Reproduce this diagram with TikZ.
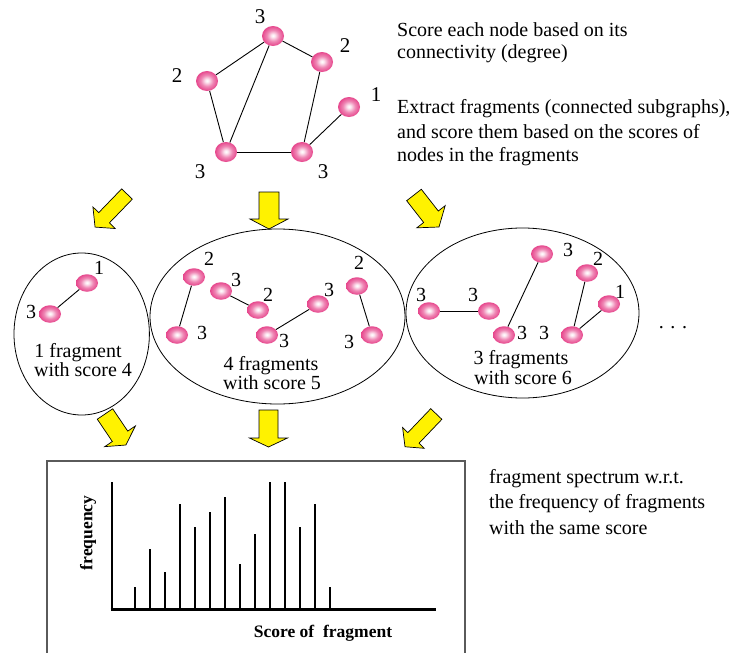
\documentclass[tikz,border=0pt]{standalone}
\usepackage{fontspec}
\setmainfont{Liberation Serif}
\usetikzlibrary{shapes.geometric}
\definecolor{nodepink}{RGB}{230,70,140}
\definecolor{framegray}{RGB}{90,90,90}
\pgfdeclareradialshading{ballshade}{\pgfpoint{0bp}{1bp}}{color(0bp)=(white); color(4bp)=(nodepink!12); color(14bp)=(nodepink!65); color(25bp)=(nodepink); color(50bp)=(nodepink)}
\tikzset{
  ball/.style={ellipse, minimum width=22pt, minimum height=17.5pt, inner sep=0pt, shading=ballshade},
  bigball/.style={ball, minimum height=20pt},
  edge/.style={draw=black, line width=0.9pt},
  lbl/.style={font=\fontsize{20}{24}\selectfont, inner sep=0pt},
  biglbl/.style={font=\fontsize{21}{24}\selectfont, inner sep=0pt},
  txt/.style={font=\fontsize{20}{24}\selectfont, inner sep=0pt, anchor=base west},
  captxt/.style={font=\fontsize{20}{24}\selectfont, inner sep=0pt, anchor=base},
  region/.style={draw=black, line width=0.8pt},
  yarrowsty/.style={draw=black, fill=yellow, line width=0.7pt, line join=miter},
  bar/.style={line width=2.6pt, line cap=butt},
}
% x y angle length shaftHalf headHalf headLen
\newcommand{\yarr}[7]{%
  \begin{scope}[shift={(#1,#2)},rotate=#3]
    \draw[yarrowsty] (0,-#5) -- ({#4-#7},-#5) -- ({#4-#7},-#6) -- (#4,0) -- ({#4-#7},#6) -- ({#4-#7},#5) -- (0,#5) -- cycle;
  \end{scope}}
\begin{document}
\begin{tikzpicture}[x=1pt,y=-1pt]
\useasboundingbox (0,0) rectangle (734,653);
\fill[white] (0,0) rectangle (734,653);

% ---------- top graph ----------
\node[bigball] (t1) at (273,36) {};
\node[bigball] (t2) at (322,62) {};
\node[bigball] (t3) at (207,81) {};
\node[bigball] (t4) at (349,107) {};
\node[bigball] (t5) at (226,152) {};
\node[bigball] (t6) at (302,152) {};
\draw[edge] (t1) -- (t3);
\draw[edge] (t1) -- (t2);
\draw[edge] (t1) -- (t5);
\draw[edge] (t3) -- (t5);
\draw[edge] (t2) -- (t6);
\draw[edge] (t5) -- (t6);
\draw[edge] (t6) -- (t4);
\node[biglbl] (lt1) at (260,17) {3};
\node[biglbl] (lt2) at (345,46) {2};
\node[biglbl] (lt3) at (177,76) {2};
\node[biglbl] (lt4) at (376,95) {1};
\node[biglbl] (lt5) at (200,172) {3};
\node[biglbl] (lt6) at (323,172) {3};

% ---------- top-right text ----------
\node[txt] (d1) at (397,36) {Score each node based on its};
\node[txt] (d2) at (397,58.5) {connectivity (degree)};
\node[txt] (d3) at (397,113) {Extract fragments (connected subgraphs),};
\node[txt] (d4) at (397,138) {and score them based on the scores of};
\node[txt] (d5) at (397,161) {nodes in the fragments};

% ---------- top arrows ----------
\yarr{127}{194}{-134}{46}{7.4}{15.5}{13}
\yarr{269}{192}{-90}{37}{10}{19}{10}
\yarr{414}{195}{-52}{40.6}{9.3}{18}{13}

% ---------- region 1 ----------
\draw[region] (81.7,334) ellipse [x radius=67.7, y radius=81];
\node[ball] (a1) at (87,283) {};
\node[ball] (a2) at (50,314) {};
\draw[edge] (a1) -- (a2);
\node[lbl] (la1) at (99,268) {1};
\node[lbl] (la2) at (31,312) {3};
\node[captxt] (ca1) at (78,357) {1 fragment};
\node[captxt] (ca2) at (83,376) {with score 4};

% ---------- region 2 ----------
\draw[region] (277.5,316.5) ellipse [x radius=127.5, y radius=87.5];
\node[ball] (b1) at (194,277) {};
\node[ball] (b2) at (177,335) {};
\node[ball] (b3) at (221,291) {};
\node[ball] (b4) at (258,310) {};
\node[ball] (b5) at (267,335) {};
\node[ball] (b6) at (318,304) {};
\node[ball] (b7) at (357,286) {};
\node[ball] (b8) at (372,335) {};
\draw[edge] (b1) -- (b2);
\draw[edge] (b3) -- (b4);
\draw[edge] (b5) -- (b6);
\draw[edge] (b7) -- (b8);
\node[lbl] (lb1) at (209,259) {2};
\node[lbl] (lb2) at (202,333) {3};
\node[lbl] (lb3) at (236,280) {3};
\node[lbl] (lb4) at (268,295) {2};
\node[lbl] (lb5) at (284,341) {3};
\node[lbl] (lb6) at (329,290) {3};
\node[lbl] (lb7) at (359,263) {2};
\node[lbl] (lb8) at (349,342) {3};
\node[captxt] (cb1) at (271,370) {4 fragments};
\node[captxt] (cb2) at (272,389) {with score 5};

% ---------- region 3 ----------
\draw[region] (522.5,313) ellipse [x radius=116.5, y radius=85];
\node[ball] (c1) at (429,311) {};
\node[ball] (c2) at (489,311) {};
\node[ball] (c3) at (542,254) {};
\node[ball] (c4) at (504,335) {};
\node[ball] (c5) at (587,273) {};
\node[ball] (c6) at (572,335) {};
\node[ball] (c7) at (609,304) {};
\draw[edge] (c1) -- (c2);
\draw[edge] (c3) -- (c4);
\draw[edge] (c5) -- (c6);
\draw[edge] (c6) -- (c7);
\node[lbl] (lc1) at (421,295) {3};
\node[lbl] (lc2) at (473,295) {3};
\node[lbl] (lc3) at (568,250) {3};
\node[lbl] (lc4) at (522,333) {3};
\node[lbl] (lc5) at (598,259) {2};
\node[lbl] (lc6) at (544,333) {3};
\node[lbl] (lc7) at (620,292) {1};
\node[captxt] (cc1) at (521,364) {3 fragments};
\node[captxt] (cc2) at (523,384) {with score 6};
\node[captxt] (dots) at (673,328) {.\,\,.\,\,.};

% ---------- bottom arrows ----------
\yarr{105}{414}{-56}{37.4}{9.3}{18.5}{10.5}
\yarr{268.5}{410}{-90}{37}{9.5}{19}{9}
\yarr{436.3}{414}{-133.7}{45.3}{7.7}{15}{12.2}

% ---------- chart ----------
\draw[draw=framegray, line width=1.4pt] (47,655) -- (47,461) -- (465,461) -- (465,655);
\coordinate (o) at (112,609);
\coordinate (xend) at (436,609);
\draw[line width=3pt] ([xshift=-1.5pt]o) -- (xend);
\foreach \x/\y in {112/482,135/587,150/549,165/572,180/504,195/527,210/512,225/497,240/564,255/534,270/482,285/482,300/527,315/504,330/587}{
  \draw[bar] (\x,609) -- (\x,\y);
}
\node[rotate=90, font=\bfseries\fontsize{17.5}{20}\selectfont, inner sep=0pt] (ylab) at (88,533) {frequency};
\node[font=\bfseries\fontsize{17.5}{20}\selectfont, inner sep=0pt, anchor=base] (xlab) at (323,637) {Score of\ \ fragment};

% ---------- bottom-right text ----------
\node[txt] (e1) at (489,483) {fragment spectrum w.r.t.};
\node[txt] (e2) at (489,508) {the frequency of fragments};
\node[txt] (e3) at (489,534) {with the same score};
\end{tikzpicture}
\end{document}
